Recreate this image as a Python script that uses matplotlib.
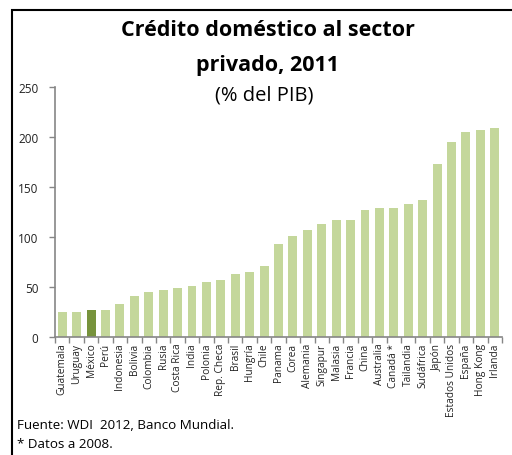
import matplotlib
matplotlib.use("Agg")
import matplotlib.pyplot as plt
from matplotlib.patches import Rectangle
import numpy as np

countries = ["Guatemala", "Uruguay", "México", "Perú", "Indonesia", "Bolivia",
             "Colombia", "Rusia", "Costa Rica", "India", "Polonia", "Rep. Checa",
             "Brasil", "Hungría", "Chile", "Panama", "Corea", "Alemania",
             "Singapur", "Malasia", "Francia", "China", "Australia", "Canadá *",
             "Tailandia", "Sudáfrica", "Japón", "Estados Unidos", "España",
             "Hong Kong", "Irlanda"]
values = [25, 25, 27, 27, 33, 41, 45, 47, 49, 51, 55, 57, 63, 65, 71, 93, 101,
          107, 113, 117, 117, 127, 129, 129, 133, 137, 173, 195, 205, 207, 209]
highlight = "México"
yticks = [0, 50, 100, 150, 200, 250]

plt.rcParams['font.family'] = ['Open Sans', 'DejaVu Sans']

W, H = 512, 456
fig = plt.figure(figsize=(W / 100, H / 100), dpi=100)
fig.patch.set_facecolor("white")

ax = fig.add_axes([55 / W, (H - 338) / H, (502 - 55) / W, (338 - 88) / H])
x = np.arange(len(countries))
colors = ["#77933c" if c == highlight else "#c4d79b" for c in countries]
ax.bar(x, values, width=0.62, color=colors, zorder=2)

ax.set_xlim(-0.5, len(countries) - 0.5)
ax.set_ylim(0, 250)
ax.set_yticks(yticks)
ax.set_yticklabels([str(v) for v in yticks], fontsize=8.5, color="#222222")
ax.set_xticks(x)
ax.set_xticklabels(countries, rotation=90, fontsize=7.3, color="#222222")
ax.set_xticks(np.arange(-0.5, len(countries)), minor=True)
ax.tick_params(axis="x", which="major", length=0, pad=4)
ax.tick_params(axis="x", which="minor", length=4, color="#868686", width=1)
ax.tick_params(axis="y", length=4, color="#868686", width=1, pad=8)
for s in ["top", "right"]:
    ax.spines[s].set_visible(False)
for s in ["left", "bottom"]:
    ax.spines[s].set_color("#868686")
    ax.spines[s].set_linewidth(1.2)

fig.text(268 / W, 1 - 31 / H, "Crédito doméstico al sector", ha="center", va="center",
         fontsize=15.5, fontweight="bold")
fig.text(268 / W, 1 - 65 / H, "privado, 2011", ha="center", va="center",
         fontsize=15.5, fontweight="bold")
fig.text(264 / W, 1 - 95 / H, "(% del PIB)", ha="center", va="center", fontsize=14.5)

fig.text(17 / W, 1 - 426 / H, "Fuente: WDI  2012, Banco Mundial.", ha="left", va="center", fontsize=9.6)
fig.text(17 / W, 1 - 445 / H, "* Datos a 2008.", ha="left", va="center", fontsize=9.6)

fig.patches.append(Rectangle((12 / W, -0.1), 1.2, 1 - 11 / H + 0.1, transform=fig.transFigure,
                             fill=False, edgecolor="black", linewidth=1.5))

fig.savefig("out.png", dpi=100)
